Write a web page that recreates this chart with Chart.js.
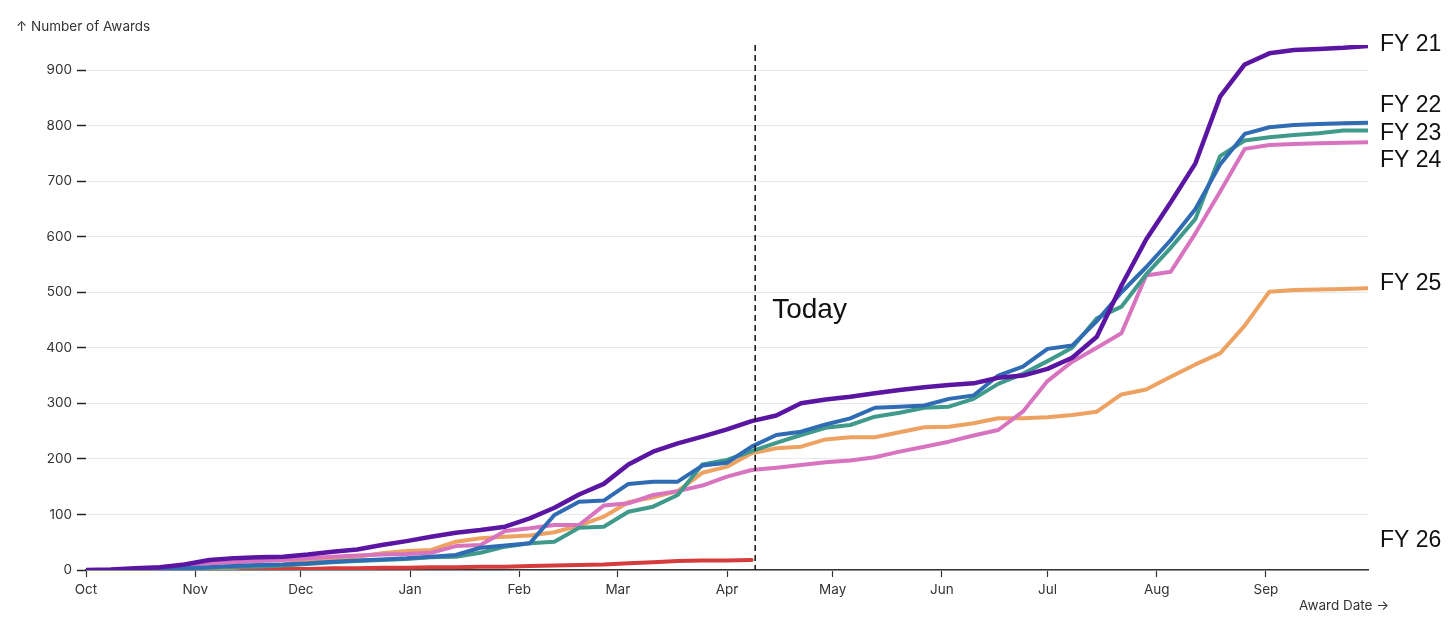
<!DOCTYPE html>
<html>
<head>
<meta charset="utf-8">
<script src="https://cdn.jsdelivr.net/npm/chart.js@4.4.1/dist/chart.umd.min.js"></script>
<style>
  html, body { margin: 0; padding: 0; background: #fff; }
  #wrap { width: 1456px; height: 635px; }
</style>
</head>
<body>
<div id="wrap"><canvas id="awards"></canvas></div>
<script>
// day of fiscal year (0 = Oct 1), sampled weekly
const days = [0, 7, 14, 21, 28, 35, 42, 49, 56, 63, 70, 77, 84, 91, 98, 105, 112, 119, 126, 133,
    140, 147, 154, 161, 168, 175, 182, 189, 196, 203, 210, 217, 224, 231, 238, 245, 252, 259, 266,
    273, 280, 287, 294, 301, 308, 315, 322, 329, 336, 343, 350, 357, 364];

const monthNames = ['Oct', 'Nov', 'Dec', 'Jan', 'Feb', 'Mar', 'Apr', 'May', 'Jun', 'Jul', 'Aug', 'Sep'];
const monthStarts = [0, 31, 61, 92, 123, 151, 182, 212, 243, 273, 304, 335];
const yTicks = [0, 100, 200, 300, 400, 500, 600, 700, 800, 900];
const todayDay = 190;

// cumulative awards
const fy21 = [0, 1, 3, 5, 10, 18, 21, 23, 24, 28, 33, 37, 45, 52, 60, 67, 72, 78, 93, 112,
    136, 155, 190, 213, 228, 240, 253, 268, 278, 300, 307, 312, 318, 324, 329, 333, 336, 346, 350,
    362, 382, 420, 512, 595, 662, 732, 852, 910, 930, 936, 938, 940, 943];
const fy22 = [0, 0, 1, 2, 3, 5, 7, 9, 10, 12, 15, 17, 19, 21, 24, 27, 40, 44, 48, 99,
    123, 125, 155, 159, 159, 188, 193, 222, 243, 249, 262, 273, 292, 294, 296, 308, 314, 350, 366,
    398, 404, 448, 500, 545, 594, 650, 730, 785, 797, 801, 803, 804, 805];
const fy23 = [0, 0, 1, 2, 3, 4, 5, 6, 8, 11, 14, 16, 18, 20, 23, 24, 31, 42, 48, 51,
    76, 78, 105, 114, 135, 190, 198, 214, 229, 243, 256, 261, 276, 283, 292, 294, 308, 335, 353,
    376, 400, 453, 474, 532, 580, 632, 745, 773, 779, 783, 786, 791, 791];
const fy24 = [0, 0, 1, 5, 9, 12, 14, 16, 18, 21, 24, 26, 28, 29, 31, 43, 45, 70, 75, 81,
    81, 116, 120, 135, 142, 152, 168, 180, 184, 189, 194, 197, 203, 213, 222, 231, 242, 252, 285,
    340, 375, 400, 426, 530, 537, 606, 681, 758, 765, 767, 768, 769, 770];
const fy25 = [0, 0, 0, 1, 2, 3, 4, 8, 10, 18, 21, 24, 30, 34, 36, 51, 57, 60, 62, 68,
    80, 96, 122, 131, 142, 175, 186, 210, 219, 222, 235, 239, 239, 248, 257, 258, 264, 273, 273,
    275, 279, 285, 316, 325, 348, 370, 390, 440, 501, 504, 505, 506, 507];
const fy26 = [0, 0, 0, 0, 0, 1, 1, 1, 2, 2, 3, 3, 4, 4, 5, 5, 6, 6, 7, 8,
    9, 10, 12, 14, 16, 17, 17, 18];

const FONT = "'Liberation Sans', Arial, Helvetica, sans-serif";
const SMALL = "Inter, 'DejaVu Sans', sans-serif";

function series(label, values, color, width, labelAt) {
    return {
        label: label,
        data: values.map((v, i) => ({ x: days[i], y: v })),
        borderColor: color,
        borderWidth: width,
        pointRadius: 0,
        tension: 0,
        borderCapStyle: 'round',
        borderJoinStyle: 'round',
        fill: false,
        labelAt: labelAt
    };
}

// text labels, the "Today" marker and the axis captions
const annotations = {
    id: 'annotations',
    afterDatasetsDraw(chart) {
        const { ctx, chartArea, scales: { x } } = chart;
        const tx = x.getPixelForValue(todayDay);
        ctx.save();
        ctx.strokeStyle = '#111';
        ctx.lineWidth = 1.5;
        ctx.setLineDash([6, 4]);
        ctx.beginPath();
        ctx.moveTo(tx, chartArea.top);
        ctx.lineTo(tx, chartArea.bottom);
        ctx.stroke();
        ctx.restore();
    },
    afterDraw(chart) {
        const { ctx, chartArea, scales: { x, y } } = chart;
        ctx.save();
        ctx.fillStyle = '#111';
        ctx.textBaseline = 'middle';

        ctx.font = '28px ' + FONT;
        ctx.fillText('Today', x.getPixelForValue(todayDay) + 17, y.getPixelForValue(468));

        ctx.font = '23px ' + FONT;
        chart.data.datasets.forEach(ds => {
            ctx.fillText(ds.label, chartArea.right + 12, y.getPixelForValue(ds.labelAt));
        });

        ctx.fillStyle = '#333';
        ctx.font = '13.5px ' + SMALL;
        ctx.fillText('\u2191 Number of Awards', 16, 27);
        ctx.fillText('Award Date \u2192', 1299, 606);
        ctx.restore();
    }
};

new Chart(document.getElementById('awards'), {
    type: 'line',
    data: {
        datasets: [
            series('FY 21', fy21, '#5a16a3', 4.5, 945),
            series('FY 22', fy22, '#2f6cb3', 4, 835),
            series('FY 23', fy23, '#3f9a8b', 4, 786),
            series('FY 24', fy24, '#d874bf', 4, 736),
            series('FY 25', fy25, '#eea262', 4, 515),
            series('FY 26', fy26, '#d63c3c', 4, 52)
        ]
    },
    options: {
        responsive: true,
        maintainAspectRatio: false,
        animation: false,
        layout: { padding: { top: 45, right: 88, left: 0, bottom: 0 } },
        scales: {
            x: {
                type: 'linear',
                min: 0,
                max: 364,
                afterBuildTicks: s => { s.ticks = monthStarts.map(v => ({ value: v })); },
                afterFit: s => { s.height = 65; },
                ticks: {
                    autoSkip: false,
                    maxRotation: 0,
                    padding: 5,
                    color: '#333',
                    font: { family: SMALL, size: 13.5 },
                    callback: v => monthNames[monthStarts.indexOf(v)]
                },
                grid: { drawOnChartArea: false, tickLength: 7, tickColor: '#333', tickWidth: 1.2 },
                border: { display: true, color: '#333', width: 1.5 }
            },
            y: {
                min: 0,
                max: 945,
                afterBuildTicks: s => { s.ticks = yTicks.map(v => ({ value: v })); },
                afterFit: s => { s.width = 86; },
                ticks: {
                    padding: 5,
                    color: '#333',
                    font: { family: SMALL, size: 13.5 }
                },
                grid: { color: '#e8e8e8', lineWidth: 1, tickLength: 9, tickColor: '#222', tickWidth: 1.5 },
                border: { display: false }
            }
        },
        plugins: {
            legend: { display: false },
            tooltip: { enabled: false }
        }
    },
    plugins: [annotations]
});
</script>
</body>
</html>
